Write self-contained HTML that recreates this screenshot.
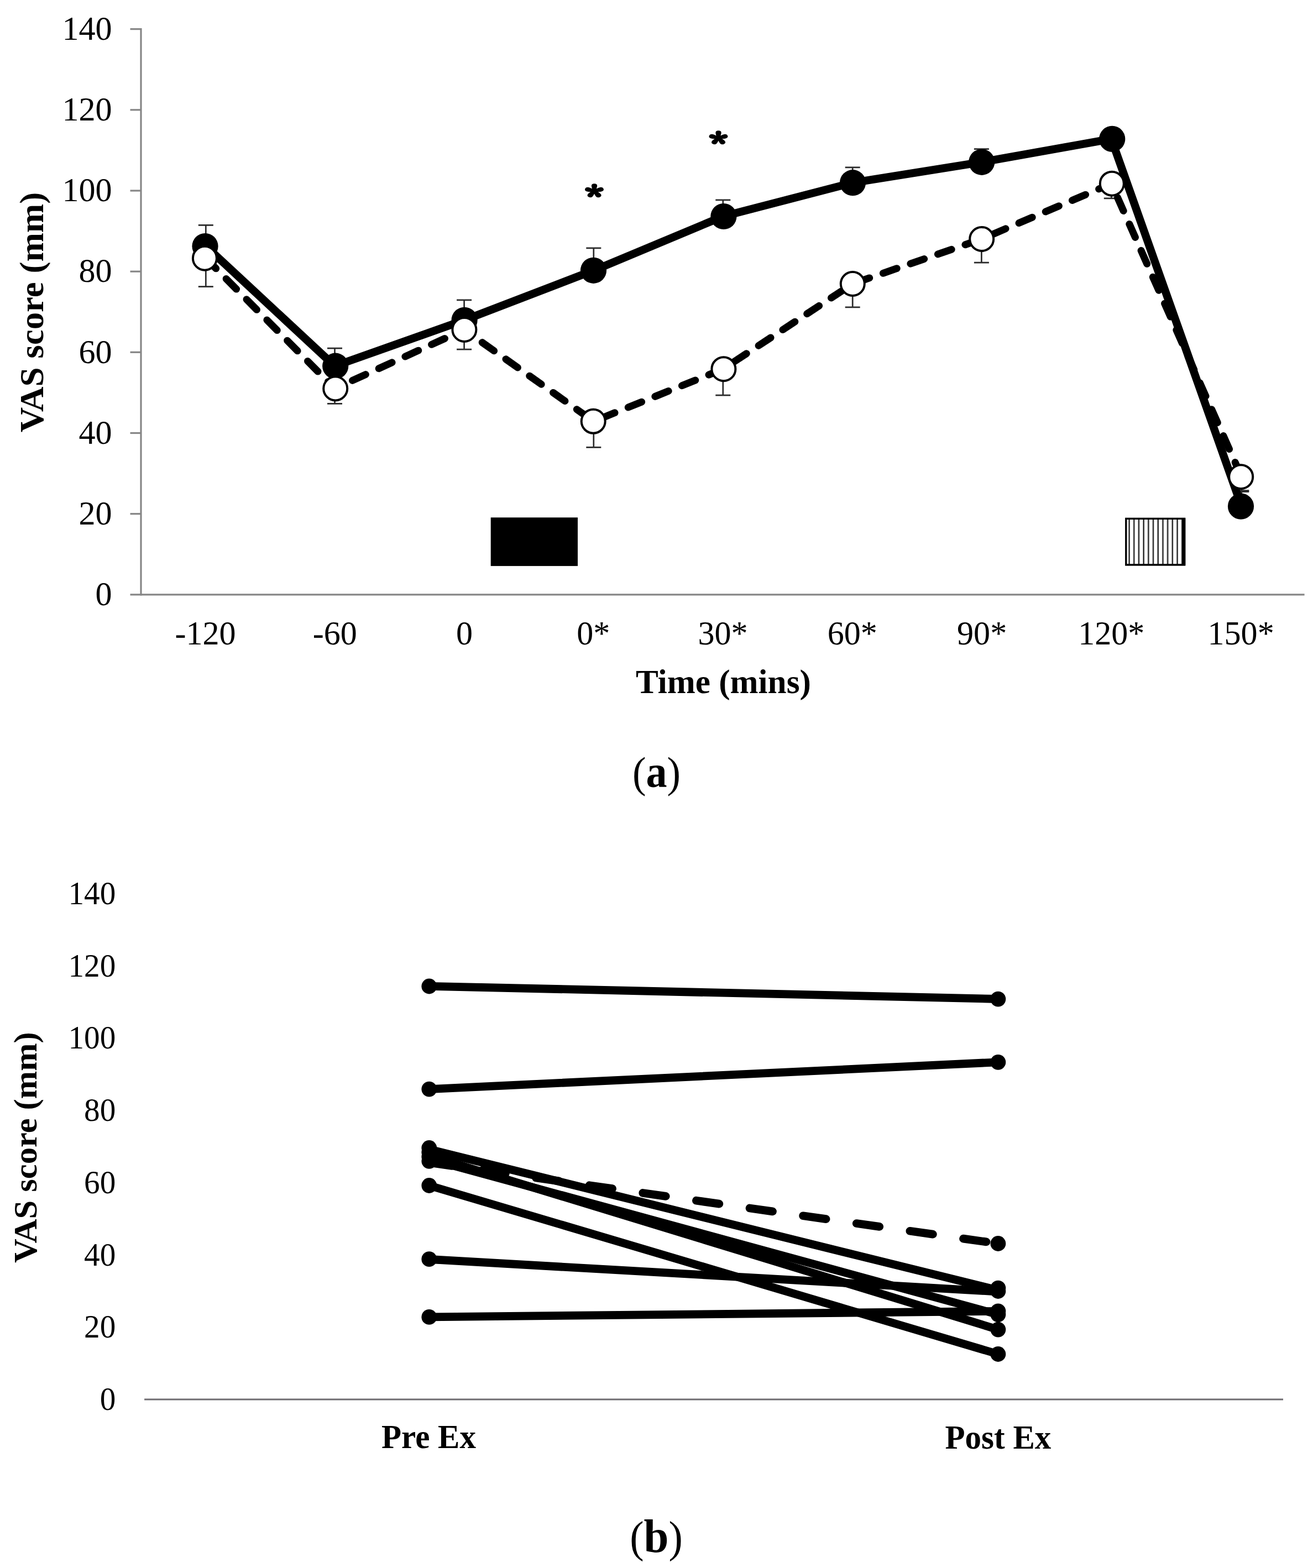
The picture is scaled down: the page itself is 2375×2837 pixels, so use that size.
<!DOCTYPE html>
<html lang="en">
<head>
<meta charset="utf-8">
<style>
html,body{margin:0;padding:0;background:#fff;}
body{width:2375px;height:2837px;overflow:hidden;}
svg{display:block;}
text{font-family:"Liberation Serif", "DejaVu Serif", serif;fill:#000;}
</style>
</head>
<body>
<svg width="2375" height="2837" viewBox="0 0 2375 2837">
<rect width="2375" height="2837" fill="#fff"/>
<g id="chart-a">
<g stroke="#868686" stroke-width="3.2" fill="none">
<line x1="255.0" y1="51.0" x2="255.0" y2="1077.5"/>
<line x1="235.5" y1="1075.9" x2="2359.6" y2="1075.9"/>
<line x1="235.5" y1="929.7" x2="255.0" y2="929.7"/>
<line x1="235.5" y1="783.5" x2="255.0" y2="783.5"/>
<line x1="235.5" y1="637.3" x2="255.0" y2="637.3"/>
<line x1="235.5" y1="491.2" x2="255.0" y2="491.2"/>
<line x1="235.5" y1="345.0" x2="255.0" y2="345.0"/>
<line x1="235.5" y1="198.8" x2="255.0" y2="198.8"/>
<line x1="235.5" y1="52.6" x2="255.0" y2="52.6"/>
</g>
<text transform="translate(202.6 1095.1) scale(0.97 1)" font-size="62" text-anchor="end">0</text>
<text transform="translate(202.6 948.9) scale(0.97 1)" font-size="62" text-anchor="end">20</text>
<text transform="translate(202.6 802.7) scale(0.97 1)" font-size="62" text-anchor="end">40</text>
<text transform="translate(202.6 656.5) scale(0.97 1)" font-size="62" text-anchor="end">60</text>
<text transform="translate(202.6 510.4) scale(0.97 1)" font-size="62" text-anchor="end">80</text>
<text transform="translate(202.6 364.2) scale(0.97 1)" font-size="62" text-anchor="end">100</text>
<text transform="translate(202.6 218.0) scale(0.97 1)" font-size="62" text-anchor="end">120</text>
<text transform="translate(202.6 71.8) scale(0.97 1)" font-size="62" text-anchor="end">140</text>
<text transform="translate(371.5 1166.2) scale(0.97 1)" font-size="62" text-anchor="middle">-120</text>
<text transform="translate(605.8 1166.2) scale(0.97 1)" font-size="62" text-anchor="middle">-60</text>
<text transform="translate(840.0 1166.2) scale(0.97 1)" font-size="62" text-anchor="middle">0</text>
<text transform="translate(1073.3 1166.2) scale(0.97 1)" font-size="62" text-anchor="middle">0*</text>
<text transform="translate(1307.5 1166.2) scale(0.97 1)" font-size="62" text-anchor="middle">30*</text>
<text transform="translate(1541.8 1166.2) scale(0.97 1)" font-size="62" text-anchor="middle">60*</text>
<text transform="translate(1776.1 1166.2) scale(0.97 1)" font-size="62" text-anchor="middle">90*</text>
<text transform="translate(2010.3 1166.2) scale(0.97 1)" font-size="62" text-anchor="middle">120*</text>
<text transform="translate(2244.6 1166.2) scale(0.97 1)" font-size="62" text-anchor="middle">150*</text>
<text transform="translate(1308.4 1254.2) scale(0.988 1)" font-size="62" text-anchor="middle" font-weight="bold">Time (mins)</text>
<text transform="translate(77.6 565.0) rotate(-90) scale(1.018 1)" font-size="61.8" text-anchor="middle" font-weight="bold">VAS score (mm)</text>
<rect x="887.7" y="936.3" width="157.3" height="87.8" fill="#000"/>
<defs><pattern id="vh" x="2035.1" y="0" width="8.7" height="10" patternUnits="userSpaceOnUse"><rect x="0" y="0" width="8.7" height="10" fill="#fff"/><rect x="6.2" y="0" width="2.6" height="10" fill="#2a2a2a"/></pattern></defs>
<rect x="2036.8" y="938.4" width="105.8" height="83.6" fill="url(#vh)" stroke="#000" stroke-width="3.4"/>
<rect x="2138.2" y="938" width="6" height="84.4" fill="#000"/>
<g stroke="#2a2a2a" stroke-width="2.7" fill="none">
<path d="M372.3 445.5V407.3M358.8 407.3H385.8"/>
<path d="M605.5 662.2V630.1M592.0 630.1H619.0"/>
<path d="M839.6 579.3V542.9M826.1 542.9H853.1"/>
<path d="M1073.8 489.3V448.8M1060.3 448.8H1087.3"/>
<path d="M1307.8 391.5V361.9M1294.3 361.9H1321.3"/>
<path d="M1542.2 330.7V302.8M1528.7 302.8H1555.7"/>
<path d="M1775.4 293.3V269.7M1761.9 269.7H1788.9"/>
<path d="M2245.8 916.1V887.6M2232.3 887.6H2259.3"/>
<path d="M372.3 467.2V518.6M358.8 518.6H385.8"/>
<path d="M605.5 703.0V730.4M592.0 730.4H619.0"/>
<path d="M839.6 596.5V632.1M826.1 632.1H853.1"/>
<path d="M1073.8 762.3V809.4M1060.3 809.4H1087.3"/>
<path d="M1307.8 667.7V715.1M1294.3 715.1H1321.3"/>
<path d="M1542.2 513.5V555.9M1528.7 555.9H1555.7"/>
<path d="M1775.4 432.5V475.1M1761.9 475.1H1788.9"/>
<path d="M2010.3 332.2V358.8M1996.8 358.8H2023.8"/>
<path d="M2245.8 862.7V889.6M2232.3 889.6H2259.3"/>
</g>
<polyline points="372.3,445.5 605.5,662.2 839.6,579.3 1073.8,489.3 1307.8,391.5 1542.2,330.7 1775.4,293.3 2010.3,251.4 2245.8,916.1" fill="none" stroke="#000" stroke-width="14.4" stroke-linejoin="round" stroke-linecap="round"/>
<circle cx="371.0" cy="445.5" r="23.6" fill="#000"/>
<circle cx="606.7" cy="662.2" r="23.6" fill="#000"/>
<circle cx="840.1" cy="579.3" r="23.6" fill="#000"/>
<circle cx="1073.5" cy="489.3" r="23.6" fill="#000"/>
<circle cx="1308.9" cy="391.5" r="23.6" fill="#000"/>
<circle cx="1542.5" cy="330.7" r="23.6" fill="#000"/>
<circle cx="1775.7" cy="293.3" r="23.6" fill="#000"/>
<circle cx="2011.7" cy="251.4" r="23.6" fill="#000"/>
<circle cx="2244.5" cy="916.1" r="23.6" fill="#000"/>
<polyline points="372.3,467.2 605.5,703.0 839.6,596.5 1073.8,762.3 1307.8,667.7 1542.2,513.5 1775.4,432.5 2010.3,332.2 2245.8,862.7" fill="none" stroke="#000" stroke-width="13" stroke-linejoin="round" stroke-linecap="round" stroke-dasharray="26.2 26.2"/>
<circle cx="370.4" cy="467.2" r="21.5" fill="#fff" stroke="#000" stroke-width="4"/>
<circle cx="606.7" cy="703.0" r="21.5" fill="#fff" stroke="#000" stroke-width="4"/>
<circle cx="839.9" cy="596.5" r="21.5" fill="#fff" stroke="#000" stroke-width="4"/>
<circle cx="1073.2" cy="762.3" r="21.5" fill="#fff" stroke="#000" stroke-width="4"/>
<circle cx="1308.9" cy="667.7" r="21.5" fill="#fff" stroke="#000" stroke-width="4"/>
<circle cx="1542.3" cy="513.5" r="21.5" fill="#fff" stroke="#000" stroke-width="4"/>
<circle cx="1775.7" cy="432.5" r="21.5" fill="#fff" stroke="#000" stroke-width="4"/>
<circle cx="2011.3" cy="332.2" r="21.5" fill="#fff" stroke="#000" stroke-width="4"/>
<circle cx="2244.7" cy="862.7" r="21.5" fill="#fff" stroke="#000" stroke-width="4"/>
<text transform="translate(1074.9 344.5) scale(1.32 1)" y="30.5" font-family="&quot;Noto Serif CJK SC&quot;, &quot;Liberation Serif&quot;, serif" style="font-family:&quot;Noto Serif CJK SC&quot;,&quot;Liberation Serif&quot;,serif" font-size="50" font-weight="700" text-anchor="middle" stroke="#000" stroke-width="3.2" stroke-linejoin="round">*</text>
<text transform="translate(1299.4 248.5) scale(1.32 1)" y="30.5" font-family="&quot;Noto Serif CJK SC&quot;, &quot;Liberation Serif&quot;, serif" style="font-family:&quot;Noto Serif CJK SC&quot;,&quot;Liberation Serif&quot;,serif" font-size="50" font-weight="700" text-anchor="middle" stroke="#000" stroke-width="3.2" stroke-linejoin="round">*</text>
<text transform="translate(1187.5 1423.6) scale(0.93 1)" font-size="79.3" text-anchor="middle">(<tspan font-weight="bold" font-size="81.8" dy="0.65">a</tspan><tspan dy="-0.65">)</tspan></text>
</g>
<g id="chart-b">
<line x1="261.1" y1="2532.0" x2="2321" y2="2532.0" stroke="#6f6c70" stroke-width="3.2"/>
<text transform="translate(209.3 2551.2) scale(0.97 1)" font-size="59" text-anchor="end">0</text>
<text transform="translate(209.3 2420.4) scale(0.97 1)" font-size="59" text-anchor="end">20</text>
<text transform="translate(209.3 2289.7) scale(0.97 1)" font-size="59" text-anchor="end">40</text>
<text transform="translate(209.3 2158.9) scale(0.97 1)" font-size="59" text-anchor="end">60</text>
<text transform="translate(209.3 2028.1) scale(0.97 1)" font-size="59" text-anchor="end">80</text>
<text transform="translate(209.3 1897.4) scale(0.97 1)" font-size="59" text-anchor="end">100</text>
<text transform="translate(209.3 1766.6) scale(0.97 1)" font-size="59" text-anchor="end">120</text>
<text transform="translate(209.3 1635.8) scale(0.97 1)" font-size="59" text-anchor="end">140</text>
<text transform="translate(775.5 2620.3) scale(0.975 1)" font-size="60.5" text-anchor="middle" font-weight="bold">Pre Ex</text>
<text transform="translate(1805.4 2620.6) scale(0.975 1)" font-size="60.5" text-anchor="middle" font-weight="bold">Post Ex</text>
<text transform="translate(65.6 2076.2) rotate(-90) scale(1.005 1)" font-size="60.2" text-anchor="middle" font-weight="bold">VAS score (mm)</text>
<line x1="776.3" y1="1784.3" x2="1805.4" y2="1807.5" stroke="#000" stroke-width="14.8" stroke-linecap="round"/>
<line x1="776.3" y1="1970.6" x2="1805.4" y2="1921.8" stroke="#000" stroke-width="14.8" stroke-linecap="round"/>
<line x1="776.3" y1="2079.5" x2="1805.4" y2="2334.5" stroke="#000" stroke-width="14.8" stroke-linecap="round"/>
<line x1="776.3" y1="2097" x2="1805.4" y2="2378.3" stroke="#000" stroke-width="14.8" stroke-linecap="round"/>
<line x1="776.3" y1="2091" x2="1805.4" y2="2405.6" stroke="#000" stroke-width="14.8" stroke-linecap="round"/>
<line x1="776.3" y1="2103.5" x2="1805.4" y2="2250" stroke="#000" stroke-width="14.8" stroke-linecap="round" stroke-dasharray="41.8 55.8"/>
<line x1="776.3" y1="2145" x2="1805.4" y2="2450" stroke="#000" stroke-width="14.8" stroke-linecap="round"/>
<line x1="776.3" y1="2278.5" x2="1805.4" y2="2337" stroke="#000" stroke-width="14.8" stroke-linecap="round"/>
<line x1="776.3" y1="2382.9" x2="1805.4" y2="2372.4" stroke="#000" stroke-width="14.8" stroke-linecap="round"/>
<circle cx="776.3" cy="1784.5" r="13.9" fill="#000"/>
<circle cx="776.3" cy="1970.6" r="13.9" fill="#000"/>
<circle cx="776.3" cy="2077" r="13.9" fill="#000"/>
<circle cx="776.3" cy="2085" r="13.9" fill="#000"/>
<circle cx="776.3" cy="2093" r="13.9" fill="#000"/>
<circle cx="776.3" cy="2100.8" r="13.9" fill="#000"/>
<circle cx="776.3" cy="2145" r="13.9" fill="#000"/>
<circle cx="776.3" cy="2278.2" r="13.9" fill="#000"/>
<circle cx="776.3" cy="2382.9" r="13.9" fill="#000"/>
<circle cx="1805.4" cy="1807.6" r="13.9" fill="#000"/>
<circle cx="1805.4" cy="1921.8" r="13.9" fill="#000"/>
<circle cx="1805.4" cy="2250" r="13.9" fill="#000"/>
<circle cx="1805.4" cy="2330.6" r="13.9" fill="#000"/>
<circle cx="1805.4" cy="2336" r="13.9" fill="#000"/>
<circle cx="1805.4" cy="2372.4" r="13.9" fill="#000"/>
<circle cx="1805.4" cy="2378.3" r="13.9" fill="#000"/>
<circle cx="1805.4" cy="2405.6" r="13.9" fill="#000"/>
<circle cx="1805.4" cy="2450" r="13.9" fill="#000"/>
<text transform="translate(1187.0 2807.6) scale(0.96 1)" font-size="79.3" text-anchor="middle">(<tspan font-weight="bold" font-size="84.2">b</tspan>)</text>
</g>
</svg>
</body>
</html>
